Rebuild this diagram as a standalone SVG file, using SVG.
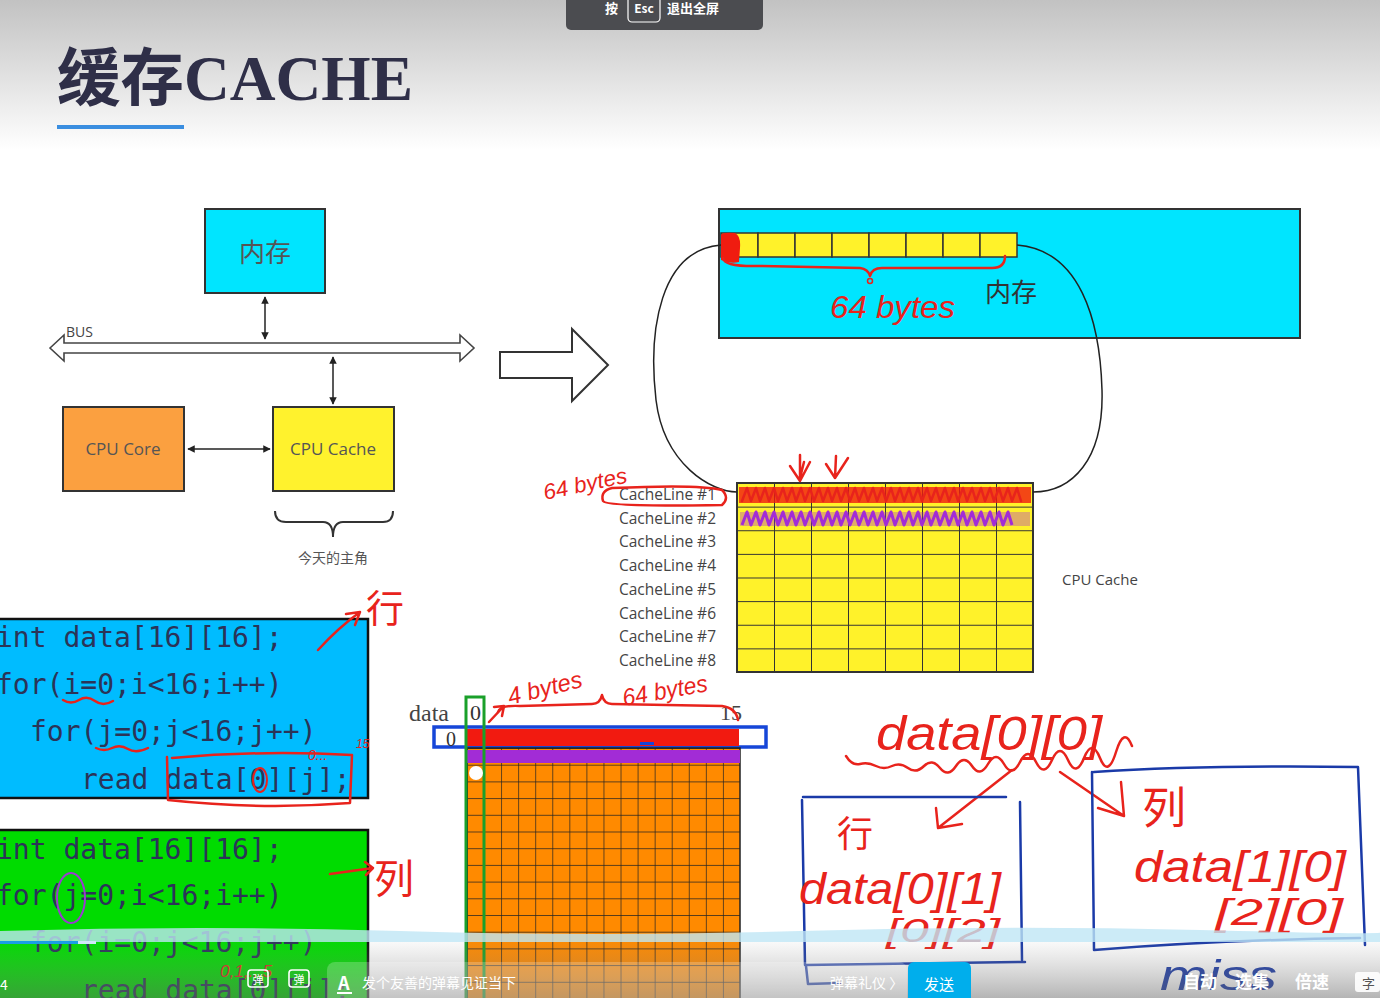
<svg xmlns="http://www.w3.org/2000/svg" width="1380" height="998" viewBox="0 0 1380 998">
<defs>
<style>
.box{stroke:#333;stroke-width:2}
.lbl{font-family:"Open Sans","Noto Sans CJK SC",sans-serif;fill:#555;text-anchor:middle}
.cl{font-family:"Open Sans",sans-serif;font-size:15.5px;fill:#444;text-anchor:end}
.code{font-family:"DejaVu Sans Mono",monospace;font-size:28px;fill:#2b3458}
.hand{font-family:"Liberation Sans",sans-serif;font-style:italic;fill:#e8231c}
.handb{font-family:"Liberation Sans",sans-serif;font-style:italic;fill:#1a3aa8}
.hcjk{font-family:"Noto Sans CJK SC",sans-serif;fill:#e8231c}
.red{fill:none;stroke:#e8231c;stroke-width:2.5;stroke-linecap:round;stroke-linejoin:round}
.blue{fill:none;stroke:#1a3aa8;stroke-width:2.5;stroke-linecap:round;stroke-linejoin:round}
.wire{fill:none;stroke:#222;stroke-width:1.5}
.ui{font-family:"Noto Sans CJK SC",sans-serif;fill:#fff}
</style>
<linearGradient id="hdr" x1="0" y1="0" x2="0" y2="1">
<stop offset="0" stop-color="#c2c2c2"/><stop offset="1" stop-color="#ffffff"/>
</linearGradient>
<linearGradient id="bar" x1="0" y1="0" x2="0" y2="1">
<stop offset="0" stop-color="#8a8a8a" stop-opacity="0.05"/><stop offset="1" stop-color="#6a6a6a" stop-opacity="0.5"/>
</linearGradient>
<marker id="ah" viewBox="0 0 10 10" refX="9" refY="5" markerWidth="5" markerHeight="5" orient="auto-start-reverse">
<path d="M0,0 L10,5 L0,10 z" fill="#222"/>
</marker>
<pattern id="cgrid" patternUnits="userSpaceOnUse" x="737" y="483" width="37" height="23.625">
<rect width="37" height="23.625" fill="#fff22a"/>
<path d="M0,0 H37 M0,0 V23.625" stroke="#333" stroke-width="2"/>
</pattern>
<pattern id="ogrid" patternUnits="userSpaceOnUse" x="467" y="748" width="17.06" height="16.7">
<rect width="17.06" height="16.7" fill="#ff8a00"/>
<path d="M0,0 H17.06 M0,0 V16.7" stroke="#222" stroke-width="1.4"/>
</pattern>
</defs>

<!-- background -->
<rect width="1380" height="998" fill="#fff"/>
<rect width="1380" height="150" fill="url(#hdr)"/>

<!-- title -->
<g id="title">
<text x="57" y="100" font-family="Liberation Serif,'Noto Sans CJK SC',serif" font-size="63" font-weight="bold" fill="#2f2f48" textLength="356" lengthAdjust="spacingAndGlyphs">缓存CACHE</text>
<rect x="57" y="125" width="127" height="4" fill="#3a8ee0"/>
</g>

<!-- left architecture diagram -->
<g id="mem-node">
<rect class="box" x="205" y="209" width="120" height="84" fill="#00e5ff"/>
<text class="lbl" x="265" y="262" font-size="26" fill="#333">内存</text>
</g>
<g id="bus-node">
<polygon points="50,348 64,335 64,343 460,343 460,335 474,348 460,361 460,353 64,353 64,361" fill="#fff" stroke="#444" stroke-width="1.6"/>
<text x="66" y="337" font-family="Open Sans,sans-serif" font-size="14" fill="#444">BUS</text>
</g>
<g id="core-node">
<rect class="box" x="63" y="407" width="121" height="84" fill="#fba040"/>
<text class="lbl" x="123" y="455" font-size="17">CPU Core</text>
</g>
<g id="cache-node">
<rect class="box" x="273" y="407" width="121" height="84" fill="#fff22d"/>
<text class="lbl" x="333" y="455" font-size="17">CPU Cache</text>
<path d="M275,511 Q275,522 286,522 L323,522 Q333,522 333,537 Q333,522 343,522 L383,522 Q393,522 393,511" fill="none" stroke="#333" stroke-width="2"/>
<text class="lbl" x="333" y="563" font-size="14" fill="#444">今天的主角</text>
</g>
<g id="big-arrow">
<polygon points="500,352 572,352 572,329 608,365 572,401 572,378 500,378" fill="#fff" stroke="#333" stroke-width="2"/>
</g>

<!-- right: memory and cache -->
<g id="memory-block">
<rect class="box" x="719" y="209" width="581" height="129" fill="#00e5ff"/>
<g fill="#fff22a" stroke="#333" stroke-width="1.5">
<rect x="721" y="233" width="37" height="24"/><rect x="758" y="233" width="37" height="24"/>
<rect x="795" y="233" width="37" height="24"/><rect x="832" y="233" width="37" height="24"/>
<rect x="869" y="233" width="37" height="24"/><rect x="906" y="233" width="37" height="24"/>
<rect x="943" y="233" width="37" height="24"/><rect x="980" y="233" width="37" height="24"/>
</g>
<path d="M721,235 Q722,232 735,233 Q741,236 740,248 L739,262 Q730,264 721,260 z" fill="#f01c10"/>
<text x="985" y="302" font-family="Noto Sans CJK SC,sans-serif" font-size="26" fill="#333">内存</text>
</g>

<g id="cpu-cache-grid">
<rect x="737" y="483" width="296" height="189" fill="url(#cgrid)" stroke="#333" stroke-width="2"/>
<text class="cl" x="716" y="500">CacheLine #1</text>
<text class="cl" x="716" y="524">CacheLine #2</text>
<text class="cl" x="716" y="547">CacheLine #3</text>
<text class="cl" x="716" y="571">CacheLine #4</text>
<text class="cl" x="716" y="595">CacheLine #5</text>
<text class="cl" x="716" y="619">CacheLine #6</text>
<text class="cl" x="716" y="642">CacheLine #7</text>
<text class="cl" x="716" y="666">CacheLine #8</text>
<text x="1062" y="585" font-family="Open Sans,sans-serif" font-size="15" fill="#444">CPU Cache</text>
</g>

<g id="connectors">
<line class="wire" x1="265" y1="297" x2="265" y2="339" marker-start="url(#ah)" marker-end="url(#ah)"/>
<line class="wire" x1="333" y1="357" x2="333" y2="404" marker-start="url(#ah)" marker-end="url(#ah)"/>
<line class="wire" x1="188" y1="449" x2="270" y2="449" marker-start="url(#ah)" marker-end="url(#ah)"/>
<path class="wire" d="M721,245 C660,250 648,330 656,400 C664,465 712,492 737,492"/>
<path class="wire" d="M1017,245 C1080,250 1100,320 1102,390 C1104,460 1072,492 1033,492"/>
</g>

<!-- annotations on memory/cache -->
<g id="ann-top">
<path class="red" d="M723,258 Q724,267 760,266 L860,268 Q868,269 870,276 Q872,268 882,268 L992,268 Q1005,268 1005,256"/>
<circle cx="870" cy="281" r="2.5" fill="none" stroke="#e8231c" stroke-width="1.5"/>
<text class="hand" x="830" y="318" font-size="32" textLength="125" lengthAdjust="spacingAndGlyphs">64 bytes</text>
<path class="red" d="M800,455 L800,481 M790,466 L800,481 L810,462 M804,462 L800,478 M836,456 L835,478 M826,464 L835,478 L848,458"/>
<rect x="739" y="487" width="292" height="16" fill="#f01c10" opacity="0.8"/>
<path class="red" stroke="#f21a10" stroke-width="3" d="M742,501 l5,-13 l4,13 l5,-13 l4,13 l5,-13 l4,13 l5,-13 l4,13 l5,-13 l4,13 l5,-13 l4,13 l5,-13 l4,13 l5,-13 l4,13 l5,-13 l4,13 l5,-13 l4,13 l5,-13 l4,13 l5,-13 l4,13 l5,-13 l4,13 l5,-13 l4,13 l5,-13 l4,13 l5,-13 l4,13 l5,-13 l4,13 l5,-13 l4,13 l5,-13 l4,13 l5,-13 l4,13 l5,-13 l4,13 l5,-13 l4,13 l5,-13 l4,13 l5,-13 l4,13 l5,-13 l4,13 l5,-13 l4,13 l5,-13 l4,13 l5,-13 l4,13 l5,-13 l4,13 l5,-13 l4,13 l5,-13 l4,13"/>
<rect x="740" y="512" width="290" height="14" fill="#a22cd6" opacity="0.35"/>
<path fill="none" stroke="#a22cd6" stroke-width="3" stroke-linejoin="round" d="M742,525 l5,-13 l4,13 l5,-13 l4,13 l5,-13 l4,13 l5,-13 l4,13 l5,-13 l4,13 l5,-13 l4,13 l5,-13 l4,13 l5,-13 l4,13 l5,-13 l4,13 l5,-13 l4,13 l5,-13 l4,13 l5,-13 l4,13 l5,-13 l4,13 l5,-13 l4,13 l5,-13 l4,13 l5,-13 l4,13 l5,-13 l4,13 l5,-13 l4,13 l5,-13 l4,13 l5,-13 l4,13 l5,-13 l4,13 l5,-13 l4,13 l5,-13 l4,13 l5,-13 l4,13 l5,-13 l4,13 l5,-13 l4,13 l5,-13 l4,13 l5,-13 l4,13 l5,-13 l4,13 l5,-13 l4,13"/>
<path class="red" stroke-width="2" d="M722,490 Q700,484 612,488 Q600,491 603,501 Q606,507 722,505 Q730,498 722,490"/>
<text class="hand" x="545" y="500" font-size="22" textLength="85" lengthAdjust="spacingAndGlyphs" transform="rotate(-12 545 500)">64 bytes</text>
</g>

<!-- code blocks -->
<g id="code-row">
<rect x="-3" y="619" width="371" height="179" fill="#00bcff" stroke="#111" stroke-width="2.5"/>
<text class="code" x="-4" y="647">int data[16][16];</text>
<text class="code" x="-4" y="694">for(i=0;i&lt;16;i++)</text>
<text class="code" x="30" y="741">for(j=0;j&lt;16;j++)</text>
<text class="code" x="81" y="789">read data[0][j];</text>
</g>
<g id="code-col">
<rect x="-3" y="830" width="371" height="175" fill="#00dc00" stroke="#111" stroke-width="2.5"/>
<text class="code" x="-4" y="859">int data[16][16];</text>
<text class="code" x="-4" y="905">for(j=0;i&lt;16;i++)</text>
<text class="code" x="30" y="952">for(i=0;j&lt;16;j++)</text>
<text class="code" x="81" y="1000">read data[0][j];</text>
</g>
<g id="ann-code">
<path class="red" stroke-width="1.5" d="M63,700 Q71,705 79,700 T95,701 T113,701"/>
<path class="red" stroke-width="1.5" d="M96,748 Q104,752 112,748 T128,749 T148,748"/>
<path class="red" stroke-width="2" d="M167,757 L168,800 Q260,810 350,803 L352,755 Q262,750 172,758"/>
<ellipse cx="260" cy="780" rx="7" ry="12" fill="none" stroke="#e8231c" stroke-width="2"/>
<text class="hand" x="308" y="760" font-size="14">0...</text>
<text class="hand" x="356" y="748" font-size="12">15</text>
<path class="red" d="M318,650 Q338,628 360,612 M346,614 L360,612 L355,625"/>
<text class="hcjk" x="366" y="622" font-size="38">行</text>
<path class="red" d="M330,874 L373,868 M365,862 L373,868 L366,875"/>
<text class="hcjk" x="374" y="893" font-size="40">列</text>
<ellipse cx="71" cy="898" rx="14" ry="25" fill="none" stroke="#9a3ad0" stroke-width="2"/>
<text class="hand" x="220" y="977" font-size="17">0,1,...5</text>
</g>

<!-- data array -->
<g id="data-array">
<text x="409" y="721" font-family="Liberation Serif,serif" font-size="24" fill="#444">data</text>
<text x="470" y="720" font-family="Liberation Serif,serif" font-size="22" fill="#333">0</text>
<text x="720" y="720" font-family="Liberation Serif,serif" font-size="22" fill="#444">15</text>
<rect x="434" y="727" width="332" height="20" fill="#fff" stroke="#1646d8" stroke-width="3.5"/>
<text x="446" y="746" font-family="Liberation Serif,serif" font-size="20" fill="#333">0</text>
<rect x="467" y="748" width="273" height="260" fill="url(#ogrid)" stroke="#222" stroke-width="1.5"/>
<rect x="467" y="729" width="272" height="17" fill="#f21a10"/>
<rect x="640" y="742" width="14" height="3" fill="#1646d8"/>
<rect x="467" y="750" width="273" height="13" fill="#a22cd6"/>
<rect x="466" y="697" width="18" height="310" fill="none" stroke="#1aa02a" stroke-width="3"/>
<circle cx="476" cy="773" r="7" fill="#fff"/>
<path class="red" stroke-width="2" d="M489,722 L504,706 M494,707 L504,706 L502,716"/>
<path class="red" stroke-width="2" d="M498,712 Q500,705 520,706 L592,704 Q600,704 602,695 Q604,704 612,704 L722,706 Q736,708 738,720"/>
<text class="hand" x="510" y="705" font-size="24" textLength="76" lengthAdjust="spacingAndGlyphs" transform="rotate(-14 510 705)">4 bytes</text>
<text class="hand" x="624" y="706" font-size="24" textLength="86" lengthAdjust="spacingAndGlyphs" transform="rotate(-10 624 706)">64 bytes</text>
</g>

<!-- right bottom handwriting -->
<g id="ann-right">
<text class="hand" x="876" y="750" font-size="48" textLength="226" lengthAdjust="spacingAndGlyphs">data[0][0]</text>
<path class="red" d="M846,756 Q852,766 860,764 T876,766 T892,766 T908,768 T924,766 T940,768 T956,766 T972,766 T988,764 T1004,764 T1020,762 T1036,762 T1052,760 T1068,760 T1084,758 T1100,758 T1116,752 T1132,746"/>
<path class="red" d="M1012,770 L938,828 M936,808 L938,828 L962,824"/>
<path class="red" d="M1060,772 L1124,816 M1098,808 L1124,816 L1121,782"/>
</g>
<g id="box-row">
<path class="blue" d="M803,797 L1006,797 M802,800 L805,965 L1025,962 M1020,802 L1022,960 M806,966 L808,984 L840,983"/>
<text class="hcjk" x="837" y="847" font-size="36">行</text>
<text class="hand" x="799" y="904" font-size="44" textLength="202" lengthAdjust="spacingAndGlyphs">data[0][1]</text>
<text class="hand" x="886" y="942" font-size="34" textLength="114" lengthAdjust="spacingAndGlyphs">[0][2]</text>
</g>
<g id="box-col">
<path class="blue" d="M1094,772 Q1200,765 1358,767 L1365,945 M1092,772 L1094,950 Q1220,940 1360,938"/>
<text class="hcjk" x="1142" y="824" font-size="44">列</text>
<text class="hand" x="1134" y="882" font-size="44" textLength="212" lengthAdjust="spacingAndGlyphs">data[1][0]</text>
<text class="hand" x="1215" y="925" font-size="36" textLength="128" lengthAdjust="spacingAndGlyphs">[2][0]</text>
<text class="handb" x="1160" y="990" font-size="42" textLength="117" lengthAdjust="spacingAndGlyphs">miss</text>
</g>

<!-- video player overlay -->
<g id="player-ui">
<path d="M0,931 Q200,925 400,931 T800,931 T1200,930 T1380,932 L1380,942 L0,942 z" fill="#bfe6f5" opacity="0.8"/>
<rect x="0" y="942" width="1380" height="56" fill="url(#bar)"/>
<rect x="0" y="941" width="78" height="3" fill="#1a9ee6"/>
<rect x="78" y="941" width="18" height="3" fill="#cfe8f5"/>
<text class="ui" x="0" y="990" font-size="14">4</text>
<rect x="248" y="970" width="20" height="17" rx="3" fill="none" stroke="#fff" stroke-width="1.6"/>
<text class="ui" x="258" y="984" font-size="11" text-anchor="middle">弹</text>
<rect x="289" y="970" width="20" height="17" rx="3" fill="none" stroke="#fff" stroke-width="1.6"/>
<text class="ui" x="299" y="984" font-size="11" text-anchor="middle">弹</text>
<rect x="327" y="962" width="580" height="44" rx="8" fill="#ffffff" opacity="0.22"/>
<text class="ui" x="338" y="990" font-size="18" font-weight="bold">A</text>
<rect x="337" y="992" width="15" height="2" fill="#fff"/>
<text class="ui" x="362" y="988" font-size="14" fill="#e4e4e4">发个友善的弹幕见证当下</text>
<text class="ui" x="830" y="988" font-size="14" fill="#e8e8e8">弹幕礼仪 〉</text>
<rect x="908" y="962" width="63" height="44" rx="6" fill="#00aeec"/>
<text class="ui" x="939" y="990" font-size="15" text-anchor="middle">发送</text>
<text class="ui" x="1183" y="988" font-size="17" font-weight="bold">自动</text>
<text class="ui" x="1235" y="988" font-size="17" font-weight="bold">选集</text>
<text class="ui" x="1295" y="988" font-size="17" font-weight="bold">倍速</text>
<rect x="1355" y="972" width="25" height="20" rx="3" fill="#fff" opacity="0.9"/>
<text x="1362" y="988" font-family="Noto Sans CJK SC,sans-serif" font-size="13" fill="#555">字</text>
</g>
<g id="esc-hint">
<rect x="566" y="-6" width="197" height="36" rx="5" fill="#4b4c50"/>
<text class="ui" x="605" y="13" font-size="13" font-weight="bold">按</text>
<rect x="628" y="-5" width="32" height="27" rx="4" fill="none" stroke="#fff" stroke-width="1.2"/>
<text class="ui" x="644" y="13" font-size="12" font-weight="bold" text-anchor="middle">Esc</text>
<text class="ui" x="667" y="13" font-size="13" font-weight="bold">退出全屏</text>
</g>
</svg>
